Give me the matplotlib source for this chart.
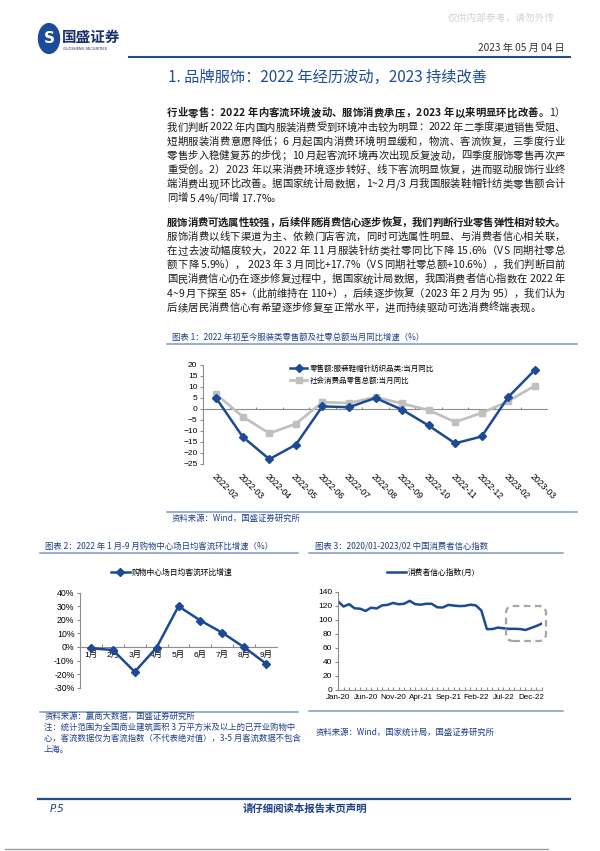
import numpy as np
import matplotlib
matplotlib.use("Agg")
import matplotlib.pyplot as plt
from matplotlib.lines import Line2D
from matplotlib.patches import FancyBboxPatch, Circle
from matplotlib.ticker import FuncFormatter

plt.rcParams['font.family'] = ['Noto Sans CJK SC', 'DejaVu Sans']

# ---- chart 1: apparel retail vs total retail, monthly yoy (%) ----
retail_months = ['2022-02', '2022-03', '2022-04', '2022-05', '2022-06', '2022-07', '2022-08',
                 '2022-09', '2022-10', '2022-11', '2022-12', '2023-02', '2023-03']
apparel_yoy = [4.9, -12.7, -22.8, -16.2, 1.2, 0.8, 5.0, -0.3, -7.5, -15.6, -12.5, 5.4, 17.7]
total_yoy = [6.7, -3.5, -11.1, -6.7, 3.1, 2.7, 5.4, 2.5, -0.5, -5.9, -1.8, 3.5, 10.6]
apparel_name = '零售额:服装鞋帽针纺织品类:当月同比'
total_name = '社会消费品零售总额:当月同比'

# ---- chart 2: mall daily traffic mom growth, Jan-Sep 2022 ----
mall_months = ['1月', '2月', '3月', '4月', '5月', '6月', '7月', '8月', '9月']
mall_flow = [-0.010, -0.022, -0.183, -0.004, 0.300, 0.195, 0.105, -0.002, -0.123]
mall_name = '购物中心场日均客流环比增速'

# ---- chart 3: consumer confidence index, Jan-20 .. Feb-23 ----
conf_index = [126.4, 118.9, 122.2, 116.4, 115.8, 112.6, 117.2, 116.1, 120.5, 121.3, 124.0, 122.1,
              122.8, 127.0, 122.2, 121.5, 122.8, 122.8, 117.8, 117.5, 121.2, 120.2, 119.5, 119.8,
              121.5, 120.5, 113.2, 86.7, 86.8, 88.9, 87.9, 87.0, 87.2, 86.8, 85.5, 88.3,
              91.2, 94.7]
conf_tick_labels = ['Jan-20', 'Jun-20', 'Nov-20', 'Apr-21', 'Sep-21', 'Feb-22', 'Jul-22', 'Dec-22']
conf_name = '消费者信心指数(月)'

# ---- page text ----
para1 = [
    [('行业零售：2022 年内客流环境波动、服饰消费承压，2023 年以来明显环比改善。', 'bold'), ('1）', 'normal')],
    [('我们判断 2022 年内国内服装消费受到环境冲击较为明显：2022 年二季度渠道销售受阻、', 'normal')],
    [('短期服装消费意愿降低；6 月起国内消费环境明显缓和，物流、客流恢复，三季度行业', 'normal')],
    [('零售步入稳健复苏的步伐；10 月起客流环境再次出现反复波动，四季度服饰零售再次严', 'normal')],
    [('重受创。2）2023 年以来消费环境逐步转好、线下客流明显恢复，进而驱动服饰行业终', 'normal')],
    [('端消费出现环比改善。据国家统计局数据，1~2 月/3 月我国服装鞋帽针纺类零售额合计', 'normal')],
    [('同增 5.4%/同增 17.7%。', 'normal')],
]
para2 = [
    [('服饰消费可选属性较强，后续伴随消费信心逐步恢复，我们判断行业零售弹性相对较大。', 'bold')],
    [('服饰消费以线下渠道为主、依赖门店客流，同时可选属性明显、与消费者信心相关联，', 'normal')],
    [('在过去波动幅度较大，2022 年 11 月服装针纺类社零同比下降 15.6%（VS 同期社零总', 'normal')],
    [('额下降 5.9%）， 2023 年 3 月同比+17.7%（VS 同期社零总额+10.6%），我们判断目前', 'normal')],
    [('国民消费信心仍在逐步修复过程中，据国家统计局数据，我国消费者信心指数在 2022 年', 'normal')],
    [('4~9 月下探至 85+（此前维持在 110+），后续逐步恢复（2023 年 2 月为 95），我们认为', 'normal')],
    [('后续居民消费信心有希望逐步修复至正常水平，进而持续驱动可选消费终端表现。', 'normal')],
]

W, H = 600, 851
BLUE = '#1c4a94'
NAVY = '#1f3f86'
GRID = '#8c8c8c'
RULE = '#7d98c2'
NUMFONT = ['Liberation Sans', 'Noto Sans CJK SC']

fig = plt.figure(figsize=(W / 100, H / 100), dpi=100)
renderer = fig.canvas.get_renderer()


def X(px):
    return px / W


def Y(py):
    return 1 - py / H


def hline(x0, x1, y, color, lw):
    fig.add_artist(Line2D([X(x0), X(x1)], [Y(y), Y(y)], color=color, lw=lw,
                          transform=fig.transFigure))


_cache = {}


def _w(s, weight, size):
    t = fig.text(0, 0, s, fontsize=size, fontweight=weight)
    w = t.get_window_extent(renderer).width
    t.remove()
    return w


def metrics(ch, weight, size):
    key = (ch, weight, size)
    if key not in _cache:
        ref2 = _w('中中', weight, size)
        adv = _w('中' + ch + '中', weight, size) - ref2
        if ch == ' ':
            off = 0
        else:
            off = _w('中' + ch, weight, size) - _w(ch, weight, size) - (ref2 - _w('中', weight, size))
        _cache[key] = (adv, off)
    return _cache[key]


def body_line(segs, y, justify=True, x0=167, x1=565, size=7.45):
    chars = [(c, wt) for s, wt in segs for c in s]
    ms = [metrics(c, wt, size) for c, wt in chars]
    natural = sum(m[0] for m in ms)
    gap = (x1 - x0 - natural) / (len(chars) - 1) if justify else 0
    x = x0
    for (c, wt), (adv, off) in zip(chars, ms):
        if c != ' ':
            fig.text(X(x + off), Y(y + 3.8), c, fontsize=size, fontweight=wt,
                     ha='left', va='baseline', color='#1a1a1a')
        x += adv + gap


# ---- header ----
fig.text(X(448), Y(18), '仅供内部参考，请勿外传', fontsize=7, color='#d2d2d2', va='center')
fig.add_artist(Circle((X(49), Y(38.5)), 10.5 / W, transform=fig.transFigure,
                      color='#1d4b9b', zorder=3))
fig.text(X(49), Y(38.5), 'S', fontsize=11, fontweight='bold', color='white',
         ha='center', va='center', family='DejaVu Sans', zorder=4)
fig.text(X(62), Y(37), '国盛证券', fontsize=10.5, fontweight='bold', color='#1a2f6e', va='center')
fig.text(X(63), Y(49.5), 'GUOSHENG SECURITIES', fontsize=2.6, color='#1a2f6e', va='center',
         family='DejaVu Sans')
fig.text(X(565), Y(48), '2023 年 05 月 04 日', fontsize=7.3, color='#333333', ha='right', va='center')
hline(129, 570, 56.5, '#1f4e8c', 1.5)
fig.text(X(168), Y(77), '1. 品牌服饰：2022 年经历波动，2023 持续改善', fontsize=11,
         color='#1f4e9a', va='center')

# ---- body ----
for i, segs in enumerate(para1):
    body_line(segs, 112.5 + i * 14.2, justify=i < len(para1) - 1)
for i, segs in enumerate(para2):
    body_line(segs, 221.8 + i * 14.2, justify=i < len(para2) - 1)

# ---- chart 1 ----
fig.text(X(172), Y(337), '图表 1：2022 年初至今服装类零售额及社零总额当月同比增速（%）',
         fontsize=6, color=NAVY, va='center', style='italic')
hline(167, 577, 344, RULE, 1.1)

ax1 = fig.add_axes([X(203), Y(464), (548 - 203) / W, (464 - 365) / H])
xs = np.arange(len(retail_months))
g_line, = ax1.plot(xs, total_yoy, color='#bfbfbf', lw=1.9, marker='s', ms=4.6, label=total_name, zorder=3)
b_line, = ax1.plot(xs, apparel_yoy, color=BLUE, lw=1.8, marker='D', ms=4.0, label=apparel_name, zorder=4)
ax1.axhline(0, color=GRID, lw=0.8, zorder=1)
ax1.vlines(xs[1:] - 0.5, 0, 1.1, color=GRID, lw=0.8, zorder=1)
ax1.set_xlim(-0.5, len(retail_months) - 0.5)
ax1.set_ylim(-25, 20)
ax1.set_yticks(np.arange(-25, 21, 5))
ax1.set_xticks(xs)
ax1.set_xticklabels(retail_months, rotation=-45, ha='left', va='top', rotation_mode='anchor')
for s in ['top', 'right', 'bottom']:
    ax1.spines[s].set_visible(False)
ax1.spines['left'].set_color(GRID)
ax1.spines['left'].set_linewidth(0.8)
ax1.tick_params(axis='y', direction='out', length=2.5, width=0.8, color=GRID, labelsize=6,
                pad=1.5, labelfontfamily=NUMFONT)
ax1.tick_params(axis='x', length=0, pad=6, labelsize=6.3, labelfontfamily=NUMFONT)
ax1.patch.set_alpha(0)
ax1.legend(handles=[b_line, g_line], loc='upper left', bbox_to_anchor=(X(290), Y(365)),
           bbox_transform=fig.transFigure, frameon=False, fontsize=5.4, handlelength=2.3,
           handletextpad=0.3, labelspacing=0.5, borderaxespad=0, borderpad=0)

hline(167, 577, 512, RULE, 1.1)
fig.text(X(172), Y(518), '资料来源：Wind，国盛证券研究所', fontsize=6, color=NAVY, va='center',
         style='italic')

# ---- chart 2 ----
fig.text(X(45), Y(546), '图表 2：2022 年 1 月-9 月购物中心场日均客流环比增速（%）', fontsize=6,
         color=NAVY, va='center', style='italic')
hline(40, 298, 553, RULE, 1.1)

ax2 = fig.add_axes([X(80), Y(687.7), (277 - 80) / W, (687.7 - 592.7) / H])
xm = np.arange(len(mall_months))
m_line, = ax2.plot(xm, mall_flow, color=BLUE, lw=1.8, marker='D', ms=4.0, label=mall_name, zorder=3)
ax2.set_xlim(-0.5, len(mall_months) - 0.5)
ax2.set_ylim(-0.3, 0.4)
ax2.set_yticks(np.arange(-3, 5) / 10)
ax2.yaxis.set_major_formatter(FuncFormatter(lambda v, p: f'{round(v * 100):d}%'))
ax2.set_xticks(xm)
ax2.set_xticklabels(mall_months)
ax2.set_xticks(xm[1:] - 0.5, minor=True)
for s in ['top', 'right']:
    ax2.spines[s].set_visible(False)
ax2.spines['bottom'].set_position(('data', 0))
for s in ['left', 'bottom']:
    ax2.spines[s].set_color(GRID)
    ax2.spines[s].set_linewidth(0.8)
ax2.tick_params(axis='y', direction='out', length=2.5, width=0.8, color=GRID, labelsize=6.3,
                pad=1.5, labelfontfamily=NUMFONT)
ax2.tick_params(axis='x', which='major', length=0, pad=3, labelsize=6, labelfontfamily=NUMFONT)
ax2.tick_params(axis='x', which='minor', direction='in', length=2, width=0.8, color=GRID)
ax2.patch.set_alpha(0)
ax2.legend(handles=[m_line], loc='upper left', bbox_to_anchor=(X(111), Y(569)),
           bbox_transform=fig.transFigure, frameon=False, fontsize=5.6, handlelength=2.4,
           handletextpad=0.3, borderaxespad=0, borderpad=0)

hline(40, 298, 711.7, RULE, 1.1)
fig.text(X(45), Y(716.5), '资料来源：赢商大数据，国盛证券研究所', fontsize=6, color=NAVY, va='center',
         style='italic')
notes = ['注：统计范围为全国商业建筑面积 3 万平方米及以上的已开业购物中',
         '心，客流数据仅为客流指数（不代表绝对值），3-5 月客流数据不包含',
         '上海。']
for i, t in enumerate(notes):
    fig.text(X(44), Y(727 + i * 11), t, fontsize=6, color=NAVY, va='center', style='italic')

# ---- chart 3 ----
fig.text(X(315), Y(546), '图表 3：2020/01-2023/02 中国消费者信心指数', fontsize=6, color=NAVY,
         va='center', style='italic')
hline(309, 563, 553, RULE, 1.1)

ax3 = fig.add_axes([X(338), Y(690), (542 - 338) / W, (690 - 591.7) / H])
xc = np.arange(len(conf_index))
c_line, = ax3.plot(xc, conf_index, color=BLUE, lw=1.8, label=conf_name)
ax3.set_xlim(0, len(conf_index) - 1)
ax3.set_ylim(0, 140)
ax3.set_yticks(np.arange(0, 141, 20))
ax3.set_xticks(xc[::5][:len(conf_tick_labels)])
ax3.set_xticklabels(conf_tick_labels)
ax3.set_xticks(xc, minor=True)
for s in ['top', 'right']:
    ax3.spines[s].set_visible(False)
for s in ['left', 'bottom']:
    ax3.spines[s].set_color(GRID)
    ax3.spines[s].set_linewidth(0.8)
ax3.tick_params(axis='y', direction='out', length=2.5, width=0.8, color=GRID, labelsize=6,
                pad=1.5, labelfontfamily=NUMFONT)
ax3.tick_params(axis='x', which='both', direction='in', length=2.5, width=0.8, color=GRID,
                labelsize=5.8, pad=3, labelfontfamily=NUMFONT)
ax3.patch.set_alpha(0)
ax3.legend(handles=[c_line], loc='upper left', bbox_to_anchor=(X(387), Y(568.5)),
           bbox_transform=fig.transFigure, frameon=False, fontsize=5.6, handlelength=2.4,
           handletextpad=0.3, borderaxespad=0, borderpad=0)

box = FancyBboxPatch((X(506), Y(641)), (546 - 506) / W, (641 - 606) / H,
                     boxstyle='round,pad=0,rounding_size=0.012', mutation_aspect=W / H,
                     transform=fig.transFigure, fill=False, ec='#a6a6a6', lw=1.6,
                     ls=(0, (3, 2)))
fig.add_artist(box)

hline(309, 563, 711, RULE, 1.1)
fig.text(X(316), Y(732), '资料来源：Wind，国家统计局，国盛证券研究所', fontsize=6, color=NAVY,
         va='center', style='italic')

# ---- footer ----
hline(38, 570, 799, '#1f4e8c', 1.6)
fig.text(X(50), Y(809), 'P.5', fontsize=7.5, color=NAVY, va='center', style='italic',
         family=['DejaVu Sans'])
fig.text(X(305), Y(809), '请仔细阅读本报告末页声明', fontsize=7.5, color=NAVY, va='center',
         ha='center', fontweight='bold')
hline(5, 548, 849, '#9a9a9a', 1.0)

fig.savefig('out.png', dpi=100)
